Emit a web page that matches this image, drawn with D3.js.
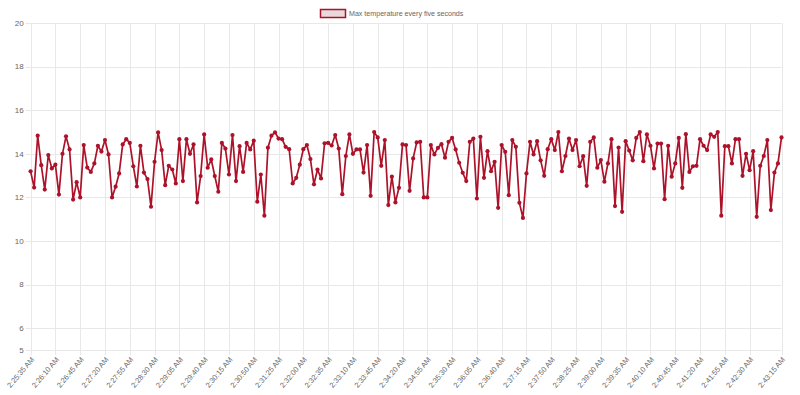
<!DOCTYPE html>
<html>
<head>
<meta charset="utf-8">
<script src="https://cdn.jsdelivr.net/npm/d3@7"></script>
<style>
  body { margin: 0; background: #fff; }
  svg { display: block; font-family: "Liberation Sans", Arial, sans-serif; }
</style>
</head>
<body>
<div id="chart"></div>
<script>
// max temperature sampled every five seconds, starting 2:25:35 AM
var temps = [
  13.2, 12.45, 14.83, 13.48, 12.36, 13.94, 13.33, 13.5, 12.13, 14.0,
  14.8, 14.2, 11.9, 12.7, 12.0, 14.4, 13.37, 13.17, 13.56, 14.37,
  14.1, 14.63, 13.97, 12.0, 12.49, 13.1, 14.43, 14.67, 14.5, 13.43,
  12.5, 14.37, 13.14, 12.84, 11.57, 13.63, 14.98, 14.17, 12.56, 13.45,
  13.28, 12.64, 14.67, 12.75, 14.67, 14.0, 14.43, 11.77, 12.98, 14.89,
  13.36, 13.74, 12.98, 12.26, 14.5, 14.24, 13.05, 14.86, 12.75, 14.35,
  13.17, 14.5, 14.2, 14.6, 11.8, 13.05, 11.16, 14.28, 14.83, 14.98,
  14.7, 14.67, 14.32, 14.21, 12.64, 12.9, 13.5, 14.21, 14.4, 13.76,
  12.6, 13.28, 12.87, 14.48, 14.5, 14.38, 14.86, 14.24, 12.15, 13.9,
  14.89, 14.0, 14.2, 14.2, 13.14, 14.4, 12.07, 15.0, 14.75, 13.45,
  14.63, 11.65, 12.95, 11.77, 12.44, 14.43, 14.4, 12.3, 13.79, 14.52,
  14.55, 12.0, 12.0, 14.4, 13.97, 14.27, 14.44, 13.82, 14.55, 14.73,
  14.2, 13.59, 13.13, 12.75, 14.55, 14.7, 11.95, 14.78, 12.9, 14.12,
  13.2, 13.63, 11.52, 14.4, 14.09, 12.1, 14.63, 14.32, 11.75, 11.06,
  13.1, 14.55, 13.97, 14.58, 13.7, 12.99, 14.21, 14.67, 14.17, 15.0,
  13.2, 13.9, 14.7, 14.17, 14.63, 13.43, 13.89, 12.53, 14.55, 14.75,
  13.36, 13.71, 12.72, 13.56, 14.67, 11.6, 14.29, 11.34, 14.58, 14.15,
  13.7, 14.73, 15.0, 13.66, 14.89, 14.37, 13.33, 14.47, 14.47, 11.92,
  14.37, 12.95, 13.56, 14.73, 12.44, 14.9, 13.17, 13.43, 13.45, 14.67,
  14.37, 14.17, 14.89, 14.78, 15.0, 11.16, 14.35, 14.35, 13.56, 14.67,
  14.67, 12.99, 14.0, 13.25, 14.12, 11.11, 13.45, 13.9, 14.63, 11.42,
  13.14, 13.56, 14.75
];

var yTicks = [20, 18, 16, 14, 12, 10, 8, 6, 5];

// time labels, one per reading
var start = new Date(2020, 0, 1, 2, 25, 35);
var fmt = d3.timeFormat("%-I:%M:%S %p");
var times = temps.map(function(d, i) { return fmt(d3.timeSecond.offset(start, i * 5)); });

// labels left after auto skipping (every 7th, last one forced)
var shownTimes = times.filter(function(t, i) {
  return (i % 7 === 0 && i + 7 < times.length) || i === times.length - 1;
});

var width = 800,
    height = 395,
    plotLeft = 30.6,
    plotRight = 781.5,
    plotTop = 23,
    plotBottom = 350;

var color = "rgb(172,18,42)";

var svg = d3.select("#chart").append("svg")
    .attr("width", width)
    .attr("height", height);

var x = d3.scalePoint()
    .domain(times)
    .range([plotLeft, plotRight]);

var y = d3.scaleLinear()
    .domain([5, 20])
    .range([plotBottom, plotTop]);

// gridlines
svg.append("g")
    .selectAll("line")
    .data(yTicks)
  .enter().append("line")
    .attr("x1", plotLeft - 5)
    .attr("x2", plotRight)
    .attr("y1", function(d) { return Math.round(y(d)) + 0.5; })
    .attr("y2", function(d) { return Math.round(y(d)) + 0.5; })
    .attr("stroke", "#e8e8e8")
    .attr("stroke-width", 1);

svg.append("g")
    .selectAll("line")
    .data(shownTimes)
  .enter().append("line")
    .attr("x1", function(d) { return Math.round(x(d)) + 0.5; })
    .attr("x2", function(d) { return Math.round(x(d)) + 0.5; })
    .attr("y1", plotTop)
    .attr("y2", plotBottom + 5)
    .attr("stroke", "#e8e8e8")
    .attr("stroke-width", 1);

// y labels
svg.append("g")
    .selectAll("text")
    .data(yTicks)
  .enter().append("text")
    .attr("x", plotLeft - 7)
    .attr("y", function(d) { return y(d); })
    .attr("dy", "0.35em")
    .attr("text-anchor", "end")
    .attr("font-size", 8)
    .attr("fill", "#666")
    .text(function(d) { return d; });

// x labels
svg.append("g")
    .selectAll("text")
    .data(shownTimes)
  .enter().append("text")
    .attr("transform", function(d) { return "translate(" + (x(d) + 2) + "," + (plotBottom + 8) + ") rotate(-50)"; })
    .attr("dy", "0.35em")
    .attr("text-anchor", "end")
    .attr("font-size", 7.4)
    .attr("fill", "#666")
    .text(function(d) { return d; });

// the line
var line = d3.line()
    .x(function(d, i) { return x(times[i]); })
    .y(function(d) { return y(d); });

svg.append("path")
    .datum(temps)
    .attr("fill", "none")
    .attr("stroke", color)
    .attr("stroke-width", 1.7)
    .attr("stroke-linejoin", "round")
    .attr("d", line);

svg.append("g")
    .selectAll("circle")
    .data(temps)
  .enter().append("circle")
    .attr("cx", function(d, i) { return x(times[i]); })
    .attr("cy", function(d) { return y(d); })
    .attr("r", 2.1)
    .attr("fill", color);

// legend
var legend = svg.append("g");
legend.append("rect")
    .attr("x", 320.5)
    .attr("y", 9.5)
    .attr("width", 25)
    .attr("height", 8)
    .attr("fill", "#e9d9dc")
    .attr("stroke", color)
    .attr("stroke-width", 1.5);
legend.append("text")
    .attr("x", 349)
    .attr("y", 13.5)
    .attr("dy", "0.35em")
    .attr("font-size", 7.1)
    .attr("fill", "#666")
    .text("Max temperature every five seconds");
</script>
</body>
</html>
